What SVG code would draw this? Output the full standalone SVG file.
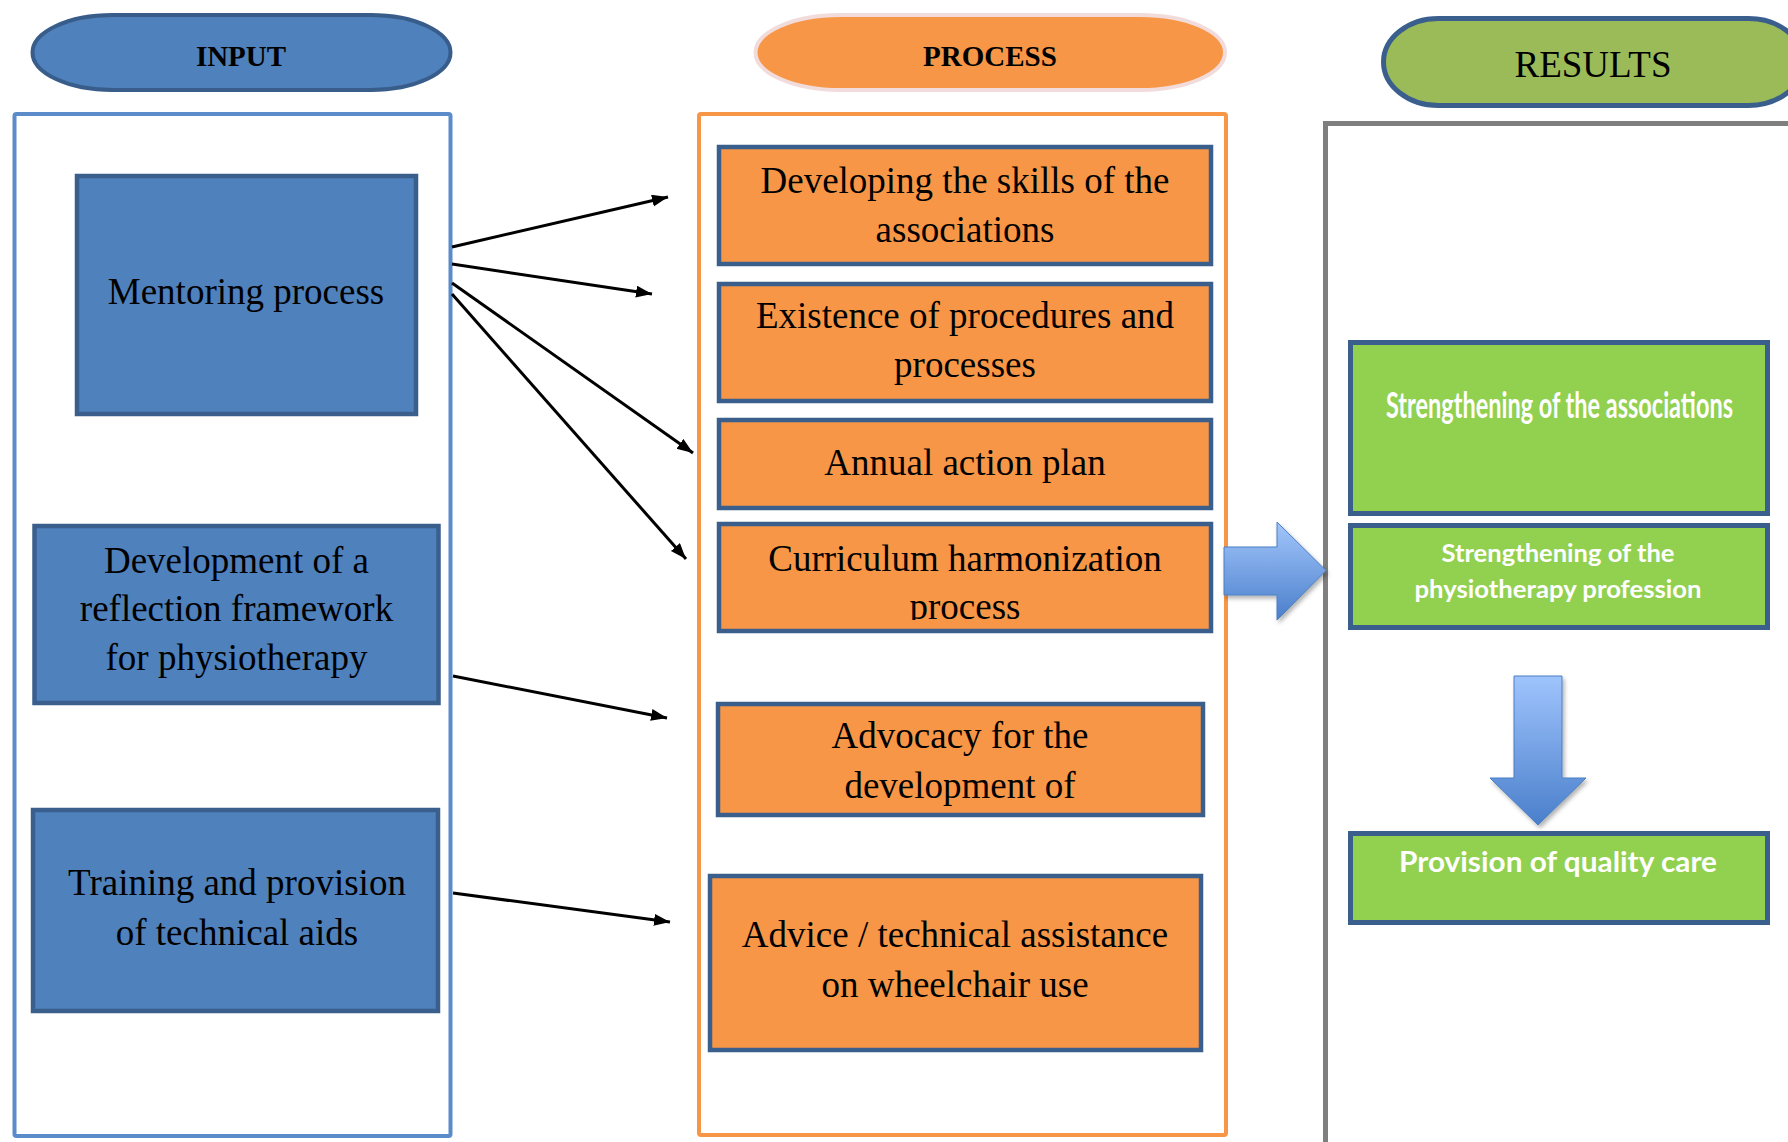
<svg xmlns="http://www.w3.org/2000/svg" width="1788" height="1142" viewBox="0 0 1788 1142">
<style>
.serif{font-family:"Liberation Serif","Times New Roman",serif;fill:#000;text-anchor:middle}
.t37{font-size:37px}
.hdr{font-size:29px;font-weight:bold}
.sans{font-family:Lato,"Open Sans","Liberation Sans",sans-serif;fill:#fff;font-weight:bold;text-anchor:middle}
.blue{fill:#4f81bd;stroke:#3b5f8d;stroke-width:4.5}
.orange{fill:#f79646;stroke:#3b5f8d;stroke-width:4.5}
.green{fill:#92d050;stroke:#3b5f8d;stroke-width:5}
.conn{stroke:#000;stroke-width:3;fill:none;marker-end:url(#ah)}
</style>
<defs>
<marker id="ah" markerUnits="userSpaceOnUse" markerWidth="18" markerHeight="14" refX="16" refY="6" orient="auto">
<path d="M0,0 L16,6 L0,12 z" fill="#000"/>
</marker>
<linearGradient id="gR" x1="0" y1="0" x2="0" y2="1">
<stop offset="0" stop-color="#a3c6fb"/>
<stop offset="1" stop-color="#4a7fcb"/>
</linearGradient>
<linearGradient id="gD" x1="0" y1="0" x2="0" y2="1">
<stop offset="0" stop-color="#9fc4fd"/>
<stop offset="1" stop-color="#4a7fcb"/>
</linearGradient>
<filter id="sh" x="-20%" y="-20%" width="150%" height="150%">
<feDropShadow dx="2" dy="3" stdDeviation="2" flood-color="#000" flood-opacity="0.3"/>
</filter>
<clipPath id="clipB4"><rect x="719" y="524" width="492" height="96"/></clipPath>
</defs>

<g id="input-column">
<rect x="14.5" y="114" width="436" height="1022" rx="2" fill="#fff" stroke="#5b8bc9" stroke-width="4"/>
</g>
<g id="process-column">
<rect x="699" y="114" width="527" height="1021" rx="2" fill="#fff" stroke="#f79646" stroke-width="4"/>
</g>
<g id="results-column">
<rect x="1325.5" y="123.5" width="600" height="1100" fill="#fff" stroke="#7f7f7f" stroke-width="5"/>
</g>

<g id="input-header">
<rect x="32.5" y="15" width="418" height="75" rx="80" ry="37.5" fill="#4f81bd" stroke="#385d8a" stroke-width="4"/>
<text class="serif hdr" x="241" y="66">INPUT</text>
</g>
<g id="process-header">
<rect x="755.5" y="15" width="469.5" height="75" rx="85" ry="37.5" fill="#f79646" stroke="#f2dcdb" stroke-width="4"/>
<text class="serif hdr" x="990" y="66">PROCESS</text>
</g>
<g id="results-header">
<rect x="1383.5" y="18.5" width="420" height="87" rx="55" ry="43.5" fill="#9bbb59" stroke="#3b5f8d" stroke-width="5"/>
<text class="serif" x="1593" y="77" font-size="37">RESULTS</text>
</g>

<g id="mentoring">
<rect class="blue" x="77" y="176" width="339" height="238"/>
<text class="serif t37" x="246" y="304">Mentoring process</text>
</g>
<g id="development">
<rect class="blue" x="34.5" y="526" width="404" height="177"/>
<text class="serif t37" x="236.5" y="573">Development of a</text>
<text class="serif t37" x="236.5" y="621">reflection framework</text>
<text class="serif t37" x="236.5" y="670">for physiotherapy</text>
</g>
<g id="training">
<rect class="blue" x="33" y="810" width="405" height="201"/>
<text class="serif t37" x="237" y="895">Training and provision</text>
<text class="serif t37" x="237" y="945">of technical aids</text>
</g>

<g id="skills">
<rect class="orange" x="719" y="147" width="492" height="117"/>
<text class="serif t37" x="965" y="193">Developing the skills of the</text>
<text class="serif t37" x="965" y="242">associations</text>
</g>
<g id="procedures">
<rect class="orange" x="719" y="284" width="492" height="117"/>
<text class="serif t37" x="965" y="328">Existence of procedures and</text>
<text class="serif t37" x="965" y="377">processes</text>
</g>
<g id="action-plan">
<rect class="orange" x="719" y="420" width="492" height="88"/>
<text class="serif t37" x="965" y="475">Annual action plan</text>
</g>
<g id="curriculum">
<rect class="orange" x="719" y="524" width="492" height="107"/>
<g clip-path="url(#clipB4)">
<text class="serif t37" x="965" y="571">Curriculum harmonization</text>
<text class="serif t37" x="965" y="619">process</text>
</g>
</g>
<g id="advocacy">
<rect class="orange" x="718" y="704" width="485" height="111"/>
<text class="serif t37" x="960" y="748">Advocacy for the</text>
<text class="serif t37" x="960" y="798">development of</text>
</g>
<g id="advice">
<rect class="orange" x="710" y="876" width="491" height="174"/>
<text class="serif t37" x="955" y="947">Advice / technical assistance</text>
<text class="serif t37" x="955" y="997">on wheelchair use</text>
</g>

<g id="assoc-strength">
<rect class="green" x="1350.5" y="342.5" width="417" height="171"/>
<text class="sans" transform="translate(1559.5,418) scale(1,1.45)" x="0" y="0" font-size="24.5" textLength="347" lengthAdjust="spacingAndGlyphs">Strengthening of the associations</text>
</g>
<g id="profession-strength">
<rect class="green" x="1350.5" y="525.5" width="417" height="102"/>
<text class="sans" x="1558" y="562" font-size="24" textLength="233" lengthAdjust="spacingAndGlyphs">Strengthening of the</text>
<text class="sans" x="1558" y="598" font-size="24" textLength="287" lengthAdjust="spacingAndGlyphs">physiotherapy profession</text>
</g>
<g id="quality-care">
<rect class="green" x="1350.5" y="833.5" width="417" height="89"/>
<text class="sans" x="1558" y="872" font-size="29" textLength="318" lengthAdjust="spacingAndGlyphs">Provision of quality care</text>
</g>

<g id="connectors">
<line class="conn" x1="452" y1="247" x2="668" y2="197"/>
<line class="conn" x1="452" y1="264" x2="652" y2="294"/>
<line class="conn" x1="452" y1="283" x2="693" y2="453"/>
<line class="conn" x1="452" y1="294" x2="686" y2="559"/>
<line class="conn" x1="453" y1="676" x2="667" y2="718"/>
<line class="conn" x1="453" y1="893" x2="670" y2="922"/>
<polygon points="1224,547 1277,547 1277,522 1326,570.5 1277,620 1277,595 1224,595" fill="url(#gR)" stroke="#4a7fc3" stroke-width="1" filter="url(#sh)"/>
<polygon points="1514,676 1562,676 1562,778 1586,778 1538,825 1490,778 1514,778" fill="url(#gD)" stroke="#4a7fc3" stroke-width="1" filter="url(#sh)"/>
</g>
</svg>
